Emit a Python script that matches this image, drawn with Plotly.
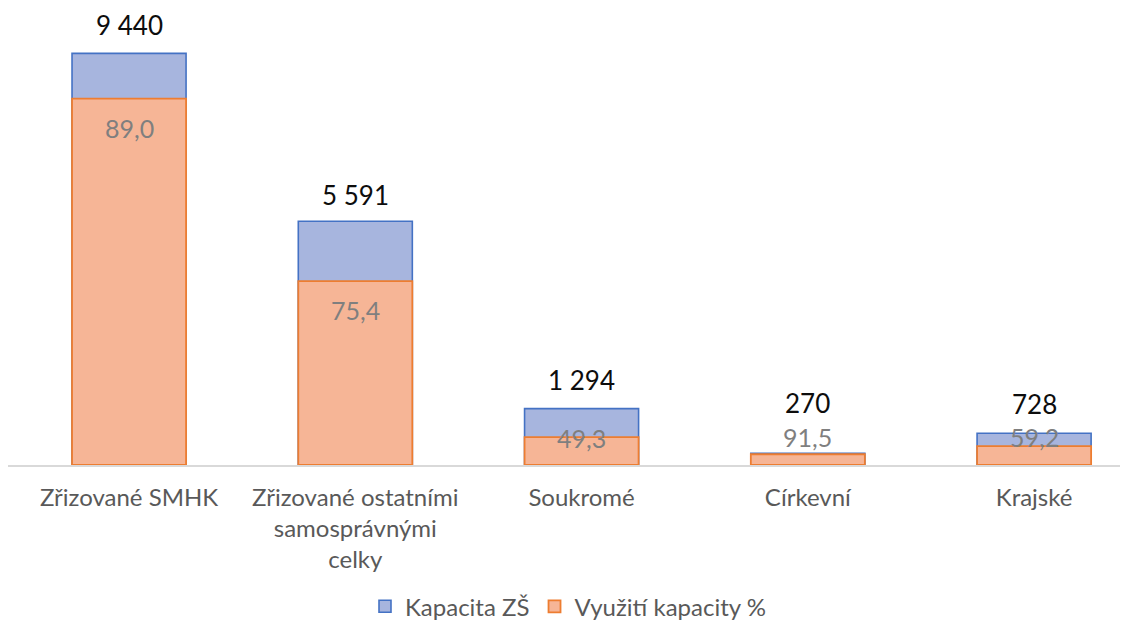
import plotly.graph_objects as go

categories = ["Zřizované SMHK", "Zřizované ostatními<br>samosprávnými<br>celky", "Soukromé", "Církevní", "Krajské"]
kapacita = [9440, 5591, 1294, 270, 728]
vyuziti_pct = [89.0, 75.4, 49.3, 91.5, 59.2]
kapacita_labels = ["9 440", "5 591", "1 294", "270", "728"]
vyuziti_labels = ["89,0", "75,4", "49,3", "91,5", "59,2"]

used = [k * p / 100 for k, p in zip(kapacita, vyuziti_pct)]
x = list(range(len(categories)))

# label pixel offsets (styling)
cap_shift = [10, 8, 11, 32, 11]
use_shift = [-29, -29, -1, 17, 9]

FONT = "Lato"

fig = go.Figure()
fig.add_trace(go.Bar(
    x=x, y=kapacita, name="Kapacita ZŠ", width=0.504,
    marker=dict(color="#A7B5DE", line=dict(color="#4472C4", width=1.6)),
    hoverinfo="skip",
))
fig.add_trace(go.Bar(
    x=x, y=used, name="Využití kapacity %", width=0.504,
    marker=dict(color="#F6B596", line=dict(color="#ED7D31", width=1.8)),
    hoverinfo="skip",
))

for i in x:
    fig.add_annotation(x=i, y=kapacita[i], text=kapacita_labels[i], showarrow=False,
                       yanchor="bottom", yshift=cap_shift[i],
                       font=dict(family=FONT, size=26, color="#0D0D0D"))
    fig.add_annotation(x=i, y=used[i], text=vyuziti_labels[i], showarrow=False,
                       yanchor="middle", yshift=use_shift[i],
                       font=dict(family=FONT, size=25, color="#7F7F7F"))

fig.update_layout(
    width=1120, height=636,
    barmode="overlay",
    paper_bgcolor="white", plot_bgcolor="white",
    margin=dict(l=0, r=0, t=21, b=179),
    font=dict(family=FONT, size=24, color="#595959"),
    showlegend=True,
    legend=dict(orientation="h", x=0.5, xanchor="center", y=-0.325, yanchor="middle",
                font=dict(family=FONT, size=24, color="#595959"), traceorder="normal",
                itemwidth=30),
    xaxis=dict(range=[-0.535, 4.415], tickmode="array", tickvals=x, ticktext=categories,
               showline=True, linecolor="#D9D9D9", linewidth=1.5, showgrid=False,
               zeroline=False, ticks="outside", ticklen=10, tickcolor="rgba(0,0,0,0)",
               tickfont=dict(family=FONT, size=24, color="#595959"),
               fixedrange=True),
    yaxis=dict(range=[0, 10000], visible=False, showgrid=False, zeroline=False, fixedrange=True),
)

fig.write_html("out.html")
